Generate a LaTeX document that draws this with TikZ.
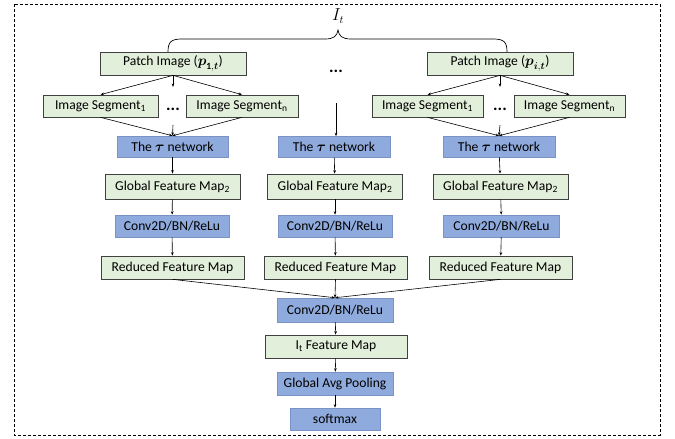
\documentclass[tikz,border=0pt]{standalone}
\usepackage{amsmath,amssymb}
\usepackage{fontspec}
\setmainfont{Carlito}
\usetikzlibrary{arrows.meta}
\definecolor{boxgreen}{HTML}{E2EFDA}
\definecolor{boxblue}{HTML}{8FAADC}
\definecolor{blueedge}{HTML}{7A93C4}
\tikzset{
  gbox/.style={draw=black!75, fill=boxgreen, line width=0.7pt, inner sep=0pt, minimum height=23pt},
  bbox/.style={draw=blueedge, fill=boxblue, line width=0.5pt, inner sep=0pt, minimum height=22pt},
  arr/.style={-{Stealth[length=3.5pt,width=2.6pt]}, line width=0.6pt},
  dotsnode/.style={inner sep=0pt, font=\fontsize{17}{19}\selectfont\bfseries},
}
\begin{document}
\begin{tikzpicture}[x=1pt,y=-1pt,font=\fontsize{13.6}{16}\selectfont]
\useasboundingbox (0,0) rectangle (675,439);
\draw[dash pattern=on 3pt off 2pt, line width=0.6pt] (14,4) rectangle (660,435);

% label and brace
\node[inner sep=0pt, font=\fontsize{16}{18}\selectfont] (It) at (338,16) {$I_t$};
\draw[line width=0.7pt] (168,52) .. controls (168,42) and (171,39) .. (182,39) -- (325,39)
  .. controls (334,39) and (337,36) .. (338,30)
  .. controls (339,36) and (342,39) .. (351,39) -- (493,39)
  .. controls (504,39) and (507,42) .. (507,52);

% patch images
\node[gbox, minimum width=146pt] (PL) at (173,63.5) {Patch Image ($\boldsymbol{p}_{\mathbf{1},\boldsymbol{t}}$)};
\node[gbox, minimum width=146pt] (PR) at (500,63.5) {Patch Image ($\boldsymbol{p}_{\boldsymbol{i},\boldsymbol{t}}$)};
\node[dotsnode] (DM) at (336,71) {...};

% segments
\node[gbox, minimum width=115pt, minimum height=22pt] (S1L) at (100.5,106) {Image Segment\textsubscript{1}};
\node[gbox, minimum width=112pt, minimum height=22pt] (SnL) at (242,106) {Image Segment\textsubscript{n}};
\node[dotsnode] (DL) at (173,109) {...};
\node[gbox, minimum width=111pt, minimum height=22pt] (S1R) at (427.5,106) {Image Segment\textsubscript{1}};
\node[gbox, minimum width=111pt, minimum height=22pt] (SnR) at (569.5,106) {Image Segment\textsubscript{n}};
\node[dotsnode] (DR) at (500,109) {...};

% tau networks
\node[bbox, minimum width=111pt, minimum height=21pt] (TL) at (172.5,146.5) {The $\boldsymbol{\tau}$ network};
\node[bbox, minimum width=112pt, minimum height=21pt] (TM) at (334,147) {The $\boldsymbol{\tau}$ network};
\node[bbox, minimum width=112pt, minimum height=21pt] (TR) at (499,146.5) {The $\boldsymbol{\tau}$ network};

% global feature maps
\node[gbox, minimum width=135pt, minimum height=25pt] (GL) at (172.5,186.5) {Global Feature Map\textsubscript{2}};
\node[gbox, minimum width=135pt, minimum height=25pt] (GM) at (335,186.5) {Global Feature Map\textsubscript{2}};
\node[gbox, minimum width=135pt, minimum height=25pt] (GR) at (500.5,186.5) {Global Feature Map\textsubscript{2}};

% conv
\node[bbox, minimum width=114pt] (CL) at (172,226) {Conv2D/BN/ReLu};
\node[bbox, minimum width=114pt] (CM) at (335,226) {Conv2D/BN/ReLu};
\node[bbox, minimum width=116pt] (CR) at (501.5,226) {Conv2D/BN/ReLu};

% reduced
\node[gbox, minimum width=143pt] (RL) at (172.5,267.5) {Reduced Feature Map};
\node[gbox, minimum width=143pt] (RM) at (335.5,267.5) {Reduced Feature Map};
\node[gbox, minimum width=143pt] (RR) at (500.5,267.5) {Reduced Feature Map};

% bottom chain
\node[bbox, minimum width=116pt, minimum height=24pt] (C2) at (335,310) {Conv2D/BN/ReLu};
\node[gbox, minimum width=142pt] (FM) at (336,346.5) {I\textsubscript{t} Feature Map};
\node[bbox, minimum width=116pt, minimum height=23pt] (GAP) at (335,383.5) {Global Avg Pooling};
\node[bbox, minimum width=90pt] (SM) at (335,419) {softmax};

% connectors: left column
\coordinate (PLd) at (173,87);
\coordinate (DLb) at (173,125);
\draw[arr] (PL.south) -- (S1L.north);
\draw[arr] (PL.south) -- (SnL.north);
\draw[arr] (PL.south) -- (PLd);
\draw[arr] (S1L.south) -- (TL.north);
\draw[arr] (SnL.south) -- (TL.north);
\draw[arr] (DLb) -- (TL.north);

% right column
\coordinate (PRd) at (500,87);
\coordinate (DRb) at (500,125);
\draw[arr] (PR.south) -- (S1R.north);
\draw[arr] (PR.south) -- (SnR.north);
\draw[arr] (PR.south) -- (PRd);
\draw[arr] (S1R.south) -- (TR.north);
\draw[arr] (SnR.south) -- (TR.north);
\draw[arr] (DRb) -- (TR.north);

% middle column
\coordinate (DMb) at (336,103);
\draw[arr] (DMb) -- (TM.north -| DMb);

% vertical chains
\draw[arr] (TL) -- (GL);
\draw[arr] (GL) -- (CL);
\draw[arr] (CL) -- (RL);
\draw[arr] (TM) -- (GM);
\draw[arr] (GM) -- (CM);
\draw[arr] (CM) -- (RM);
\draw[arr] (TR) -- (GR);
\draw[arr] (GR) -- (CR);
\draw[arr] (CR) -- (RR);

% merge
\draw[arr] (RL.south) -- (C2.north);
\draw[arr] (RM.south) -- (C2.north);
\draw[arr] (RR.south) -- (C2.north);
\draw[arr] (C2) -- (FM);
\draw[arr] (FM) -- (GAP);
\draw[arr] (GAP) -- (SM);
\end{tikzpicture}
\end{document}
